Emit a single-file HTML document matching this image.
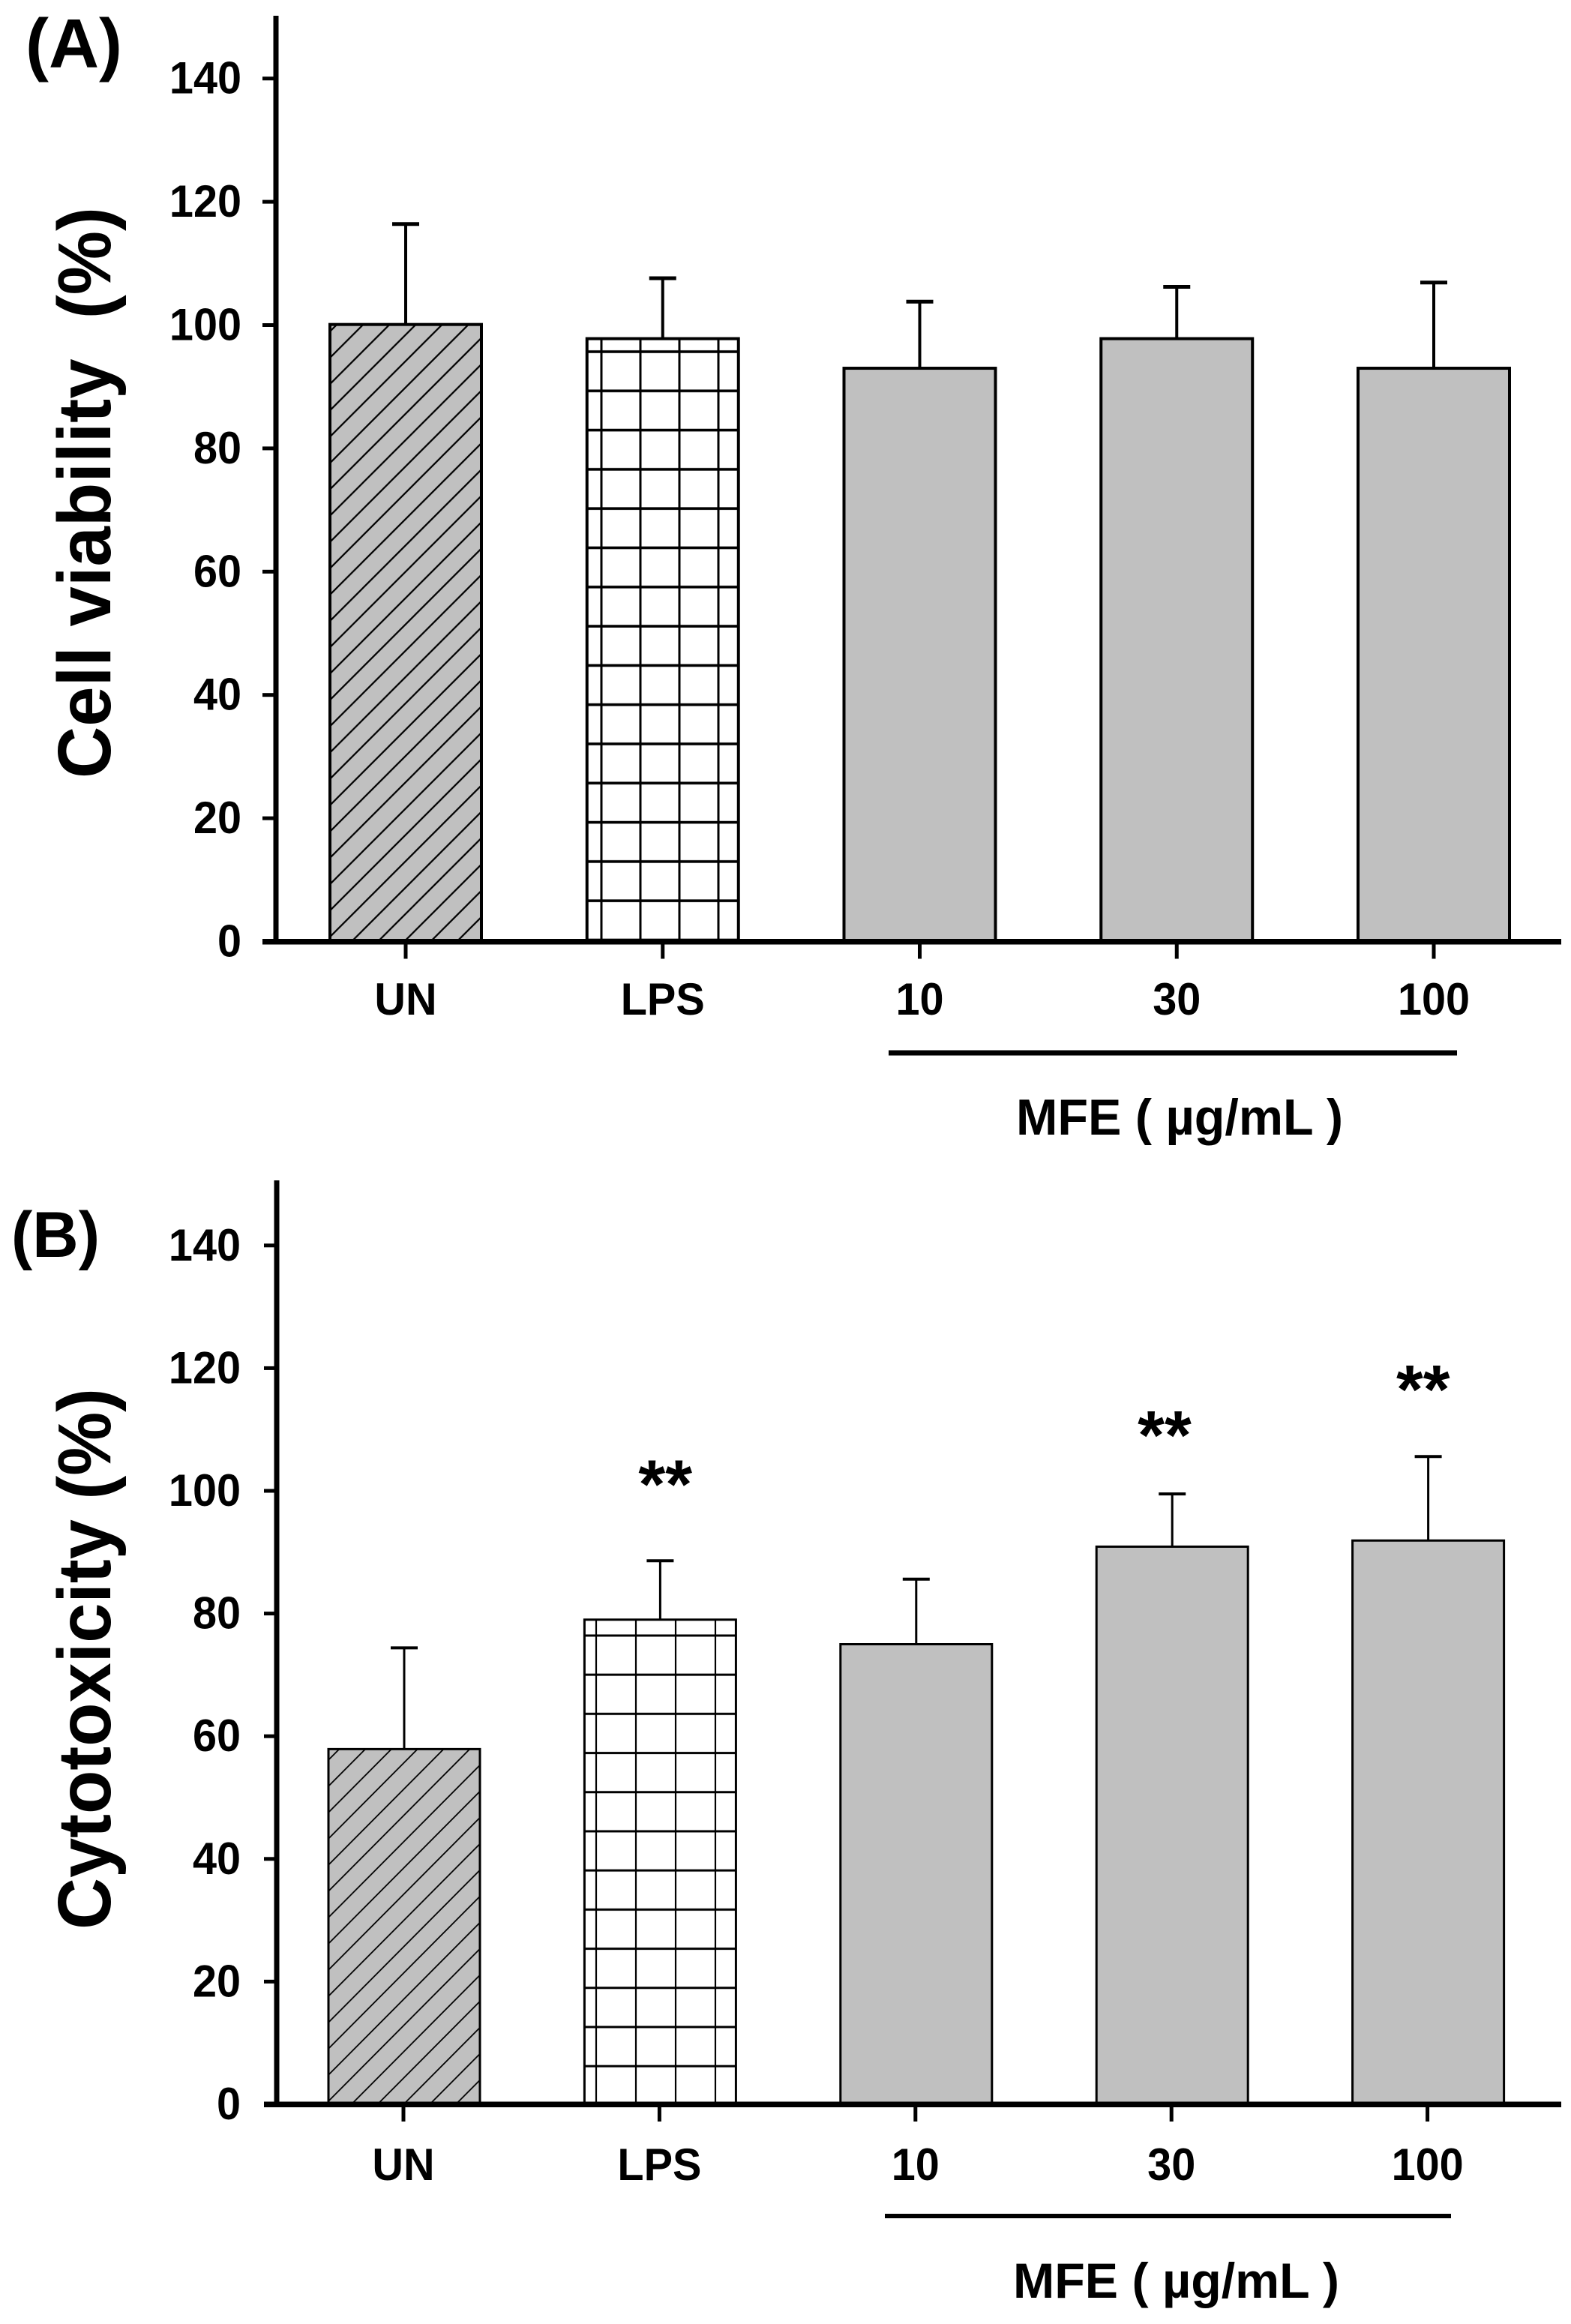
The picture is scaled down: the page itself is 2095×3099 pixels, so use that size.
<!DOCTYPE html>
<html lang="en">
<head>
<meta charset="utf-8">
<title>Cell viability and cytotoxicity bar charts</title>
<style>
  html, body { margin: 0; padding: 0; background: #ffffff; }
  svg { display: block; }
  text { font-family: "Liberation Sans", Arial, sans-serif; font-weight: bold; fill: #000; }
</style>
</head>
<body>
<svg id="figure" xmlns="http://www.w3.org/2000/svg" width="2095" height="3099" viewBox="0 0 2095 3099">
  <defs>
    <pattern id="diag-a" patternUnits="userSpaceOnUse" width="35.1" height="35.1" patternTransform="translate(553.3 434)">
      <rect width="35.1" height="35.1" fill="#c0c0c0"/>
      <path d="M-35.1 70.2L70.2 -35.1M-35.1 35.1L35.1 -35.1M0 70.2L70.2 0" stroke="#000" stroke-width="2.2" fill="none"/>
    </pattern>
    <pattern id="diag-b" patternUnits="userSpaceOnUse" width="34.8" height="35" patternTransform="translate(486.6 2333)">
      <rect width="34.8" height="35" fill="#c0c0c0"/>
      <path d="M-34.8 70L69.6 -35M-34.8 35L34.8 -35M0 70L69.6 0" stroke="#000" stroke-width="1.8" fill="none"/>
    </pattern>
    <pattern id="grid-a" patternUnits="userSpaceOnUse" width="52" height="52.3" patternTransform="translate(776 443)">
      <rect width="52" height="52.3" fill="#fff"/>
      <path d="M26 0V52.3" stroke="#000" stroke-width="3" fill="none"/>
      <path d="M0 26H52" stroke="#000" stroke-width="3.6" fill="none"/>
    </pattern>
    <pattern id="grid-b" patternUnits="userSpaceOnUse" width="53" height="52.2" patternTransform="translate(769 2155)">
      <rect width="53" height="52.2" fill="#fff"/>
      <path d="M26 0V52.2" stroke="#000" stroke-width="2.2" fill="none"/>
      <path d="M0 26H53" stroke="#000" stroke-width="3" fill="none"/>
    </pattern>
  </defs>

  <text x="34" y="90" font-size="93" textLength="129" lengthAdjust="spacingAndGlyphs">(A)</text>
  <rect x="0" y="0" width="210" height="21" fill="#fff"/>
  <text x="15" y="1676" font-size="86" textLength="118" lengthAdjust="spacingAndGlyphs">(B)</text>

  <text transform="translate(147 1038) rotate(-90)" font-size="100" xml:space="preserve" textLength="762" lengthAdjust="spacingAndGlyphs">Cell viability  (%)</text>
  <text transform="translate(147 2573) rotate(-90)" font-size="100" textLength="722" lengthAdjust="spacingAndGlyphs">Cytotoxicity (%)</text>

  <g id="chart-a"></g>
  <g id="chart-b"></g>

  <rect x="1185" y="1400.5" width="758" height="7" fill="#000"/>
  <text x="1355" y="1513" font-size="68" textLength="436" lengthAdjust="spacingAndGlyphs">MFE ( µg/mL )</text>
  <rect x="1180" y="2952" width="755" height="6" fill="#000"/>
  <text x="1351" y="3064" font-size="66" textLength="435" lengthAdjust="spacingAndGlyphs">MFE ( µg/mL )</text>
</svg>

<script>
var categories = ['UN', 'LPS', '10', '30', '100'];
var yTickValues = [0, 20, 40, 60, 80, 100, 120, 140];
var viabilityValues = [100.1, 97.8, 93.0, 97.8, 93.0];
var viabilityErrorTops = [116.4, 107.6, 103.8, 106.2, 106.9];
var cytotoxicityValues = [57.9, 79.0, 75.0, 90.9, 91.9];
var cytotoxicityErrorTops = [74.4, 88.6, 85.6, 99.5, 105.6];
var significanceCategories = [1.02, 2.97, 3.98];
var significanceHeights = [100.6, 108.6, 116.1];

var SVG_NS = 'http://www.w3.org/2000/svg';

function make(parent, tag, attrs, content) {
  var el = document.createElementNS(SVG_NS, tag);
  for (var key in attrs) { el.setAttribute(key, attrs[key]); }
  if (content !== undefined) { el.textContent = content; }
  parent.appendChild(el);
  return el;
}

function drawChart(host, opts) {
  function yScale(v) { return opts.y0 - v * opts.k; }
  function xScale(i) { return opts.x0 + i * opts.step; }
  var base = yScale(0);

  yTickValues.forEach(function (v) {
    var tick = make(host, 'rect', { x: opts.tickLeft, y: yScale(v) - 2.5, width: opts.axisX - opts.tickLeft, height: 5, fill: '#000' });
    
    
    var tickLabel = make(host, 'text', { transform: 'translate(' + opts.yLabelRight + ' ' + (yScale(v) + 20) + ') scale(.96 1)', 'font-size': 60, 'text-anchor': 'end' }, String(v));
    
    
  });

  opts.values.forEach(function (v, i) {
    var cx = xScale(i);
    var top = yScale(v);
    var errTop = yScale(opts.errors[i]);
    var stem = make(host, 'line', { x1: cx, x2: cx, y1: top, y2: errTop, stroke: '#000', 'stroke-width': opts.errW });
    
    
    var cap = make(host, 'line', { x1: cx - 18, x2: cx + 18, y1: errTop, y2: errTop, stroke: '#000', 'stroke-width': opts.capW });
    
    
    var fill = i === 0 ? opts.diag : (i === 1 ? opts.grid : '#c0c0c0');
    var bar = make(host, 'rect', { x: cx - opts.barW / 2, y: top, width: opts.barW, height: base - top, fill: fill, stroke: '#000', 'stroke-width': opts.barStroke });
    
    
    var xTick = make(host, 'rect', { x: cx - 2.5 - opts.tickShift, y: base, width: 5, height: 23, fill: '#000' });
    
    
    var xLabel = make(host, 'text', { transform: 'translate(' + (cx - opts.tickShift) + ' ' + opts.xLabelY + ') scale(.96 1)', 'font-size': 60, 'text-anchor': 'middle' }, categories[i]);
    
    
  });

  var yAxis = make(host, 'rect', { x: opts.axisX - 3.5, y: opts.axisTop, width: 7, height: base - opts.axisTop, fill: '#000' });
  
  
  var xAxis = make(host, 'rect', { x: opts.tickLeft, y: base - 3.5, width: 2082 - opts.tickLeft, height: 7.5, fill: '#000' });
  
  

  if (opts.stars) {
    opts.stars.forEach(function (c, i) {
      var star = make(host, 'text', { x: xScale(c), y: yScale(opts.starHeights[i]) + 28, 'font-size': 92, 'text-anchor': 'middle' }, '**');
      
      
    });
  }
}

drawChart(document.getElementById('chart-a'), {
  values: viabilityValues, errors: viabilityErrorTops,
  y0: 1255.5, k: 8.22, x0: 541, step: 342.75, barW: 202, barStroke: 4,
  axisX: 368, tickLeft: 350, axisTop: 21, yLabelRight: 322, xLabelY: 1353,
  errW: 4, capW: 5, tickShift: 0, diag: 'url(#diag-a)', grid: 'url(#grid-a)'
});

drawChart(document.getElementById('chart-b'), {
  values: cytotoxicityValues, errors: cytotoxicityErrorTops,
  y0: 2806, k: 8.18, x0: 539, step: 341.4, barW: 202, barStroke: 3,
  axisX: 369, tickLeft: 352, axisTop: 1574, yLabelRight: 321, xLabelY: 2907,
  errW: 3, capW: 4, tickShift: 1, diag: 'url(#diag-b)', grid: 'url(#grid-b)',
  stars: significanceCategories, starHeights: significanceHeights
});
</script>
</body>
</html>
